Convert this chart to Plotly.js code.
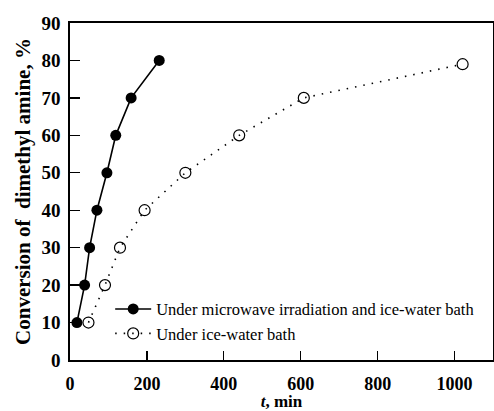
<!DOCTYPE html>
<html>
<head>
<meta charset="utf-8">
<script src="https://cdn.plot.ly/plotly-3.0.1.min.js"></script>
<style>html,body{margin:0;padding:0;background:#fff;}#chart{width:494px;height:411px;}</style>
</head>
<body>
<div id="chart"></div>
<script>
// Under microwave irradiation and ice-water bath
const microTime = [18, 38, 51, 70, 96, 119, 159, 232];
const microConv = [10, 20, 30, 40, 50, 60, 70, 80];
// Under ice-water bath
const iceTime = [48, 91, 130, 194, 300, 440, 608, 1021];
const iceConv = [10, 20, 30, 40, 50, 60, 70, 79];

const xTicks = [0, 200, 400, 600, 800, 1000];
const yTicks = [0, 10, 20, 30, 40, 50, 60, 70, 80, 90];

const seriesNames = ['Under microwave irradiation and ice-water bath', 'Under ice-water bath'];

const FONT = 'Liberation Serif';

const traces = [
  {
    x: microTime, y: microConv, name: seriesNames[0],
    type: 'scatter', mode: 'lines+markers',
    line: {color: '#000', width: 1.6},
    marker: {symbol: 'circle', size: 11, color: '#000'}
  },
  {
    x: iceTime, y: iceConv, name: seriesNames[1],
    type: 'scatter', mode: 'lines+markers',
    line: {color: '#000', width: 1.6, dash: '1.5px,7px'},
    marker: {symbol: 'circle-open', size: 11, color: '#000', line: {width: 1.2, color: '#000'}}
  }
];

const layout = {
  width: 494, height: 411,
  paper_bgcolor: '#fff', plot_bgcolor: '#fff',
  margin: {l: 70, r: 1, t: 23, b: 51},
  font: {family: FONT, color: '#000'},
  showlegend: true,
  legend: {
    x: 0.095, y: 0.115, xanchor: 'left', yanchor: 'middle',
    bgcolor: 'rgba(0,0,0,0)', borderwidth: 0,
    font: {family: FONT, size: 16.5, color: '#000'},
    itemwidth: 36, tracegroupgap: 0
  },
  xaxis: {
    range: [0, 1100],
    tickmode: 'array', tickvals: xTicks, ticktext: xTicks.map(String),
    ticks: 'inside', ticklen: 9, tickwidth: 1.3, tickcolor: '#000',
    showline: true, linecolor: '#000', linewidth: 1.6, mirror: true,
    showgrid: false, zeroline: false,
    tickfont: {family: FONT, size: 18, weight: 'bold', color: '#000'},
    ticklabelstandoff: 7,
    title: {text: '<i>t</i>, min', font: {family: FONT, size: 17, weight: 'bold', color: '#000'}, standoff: 0}
  },
  yaxis: {
    range: [0, 90],
    tickmode: 'array', tickvals: yTicks, ticktext: yTicks.map(String),
    ticks: 'inside', ticklen: 10, tickwidth: 1.3, tickcolor: '#000',
    showline: true, linecolor: '#000', linewidth: 1.6, mirror: true,
    showgrid: false, zeroline: false,
    tickfont: {family: FONT, size: 19, weight: 'bold', color: '#000'},
    ticklabelstandoff: 4,
    title: {text: 'Conversion of  dimethyl amine, %', font: {family: FONT, size: 21, weight: 'bold', color: '#000'}, standoff: 5}
  }
};

Plotly.newPlot('chart', traces, layout, {staticPlot: true, displayModeBar: false});
</script>
</body>
</html>
